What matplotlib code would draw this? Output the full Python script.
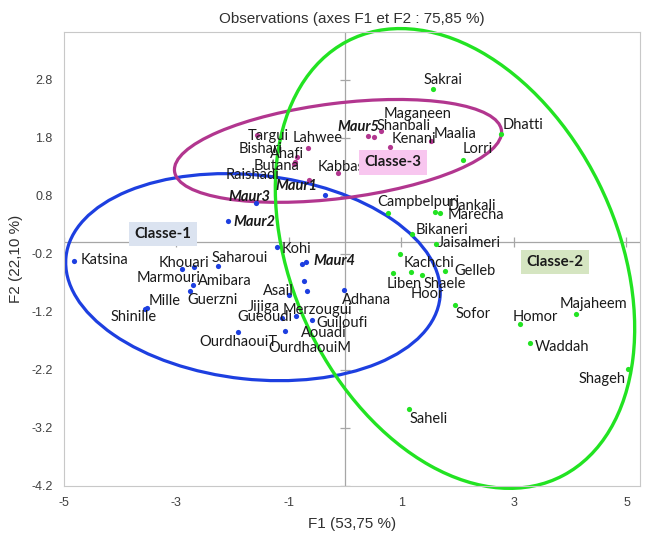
import matplotlib
matplotlib.use("Agg")
import matplotlib.pyplot as plt
from matplotlib.patches import Ellipse

# ---- Classe-1 observations (blue) ----
names_c1 = ["Katsina", "Khouari", "Marmouri", "Saharoui", "Amibara", "Guerzni",
            "Mille", "Shinille", "OurdhaouiT", "Kohi", "Maur4", "", "Jijiga",
            "OurdhaouiM", "Asail", "Gueoudi", "Merzougui", "Guiloufi", "Aouadi",
            "Adhana", "Maur1", "Maur3", "Maur2"]
f1_c1 = [-4.81, -2.90, -2.68, -2.26, -2.70, -2.75, -3.52, -3.55, -1.90, -1.21,
         -0.69, -0.76, -0.73, -0.67, -0.99, -1.12, -0.87, -0.59, -1.07, -0.02,
         -0.36, -1.58, -2.08]
f2_c1 = [-0.32, -0.46, -0.42, -0.41, -0.73, -0.84, -1.13, -1.15, -1.54, -0.08,
         -0.34, -0.37, -0.67, -0.84, -0.91, -1.30, -1.27, -1.34, -1.53, -0.82,
         0.82, 0.68, 0.37]

# ---- Classe-3 observations (magenta) ----
names_c3 = ["Targui", "Lahwee", "Ahafi", "Bishari", "Butana", "Kabbas", "Raishadi",
            "Maur5", "Maganeen", "Shanbali", "Kenani", "Maalia"]
f1_c3 = [-1.56, -0.66, -0.85, -0.89, -0.91, -0.12, -0.64, 0.41, 0.52, 0.64, 0.80, 1.53]
f2_c3 = [1.85, 1.63, 1.47, 1.39, 1.35, 1.20, 1.08, 1.83, 1.82, 1.92, 1.64, 1.75]

# ---- Classe-2 observations (green) ----
names_c2 = ["Sakrai", "Dhatti", "Lorri", "Campbelpuri", "Dankali", "Marecha",
            "Bikaneri", "Jaisalmeri", "Kachchi", "Liben", "Shaele", "Hoor", "Gelleb",
            "Sofor", "Homor", "Majaheem", "Waddah", "Shageh", "Saheli"]
f1_c2 = [1.56, 2.77, 2.10, 0.76, 1.60, 1.69, 1.19, 1.62, 0.98, 0.85, 1.17, 1.37,
         1.78, 1.95, 3.11, 4.10, 3.29, 5.03, 1.14]
f2_c2 = [2.64, 1.87, 1.42, 0.51, 0.52, 0.51, 0.14, -0.03, -0.20, -0.53, -0.51,
         -0.56, -0.49, -1.08, -1.41, -1.23, -1.73, -2.18, -2.87]

x_ticks = [-5, -3, -1, 1, 3, 5]
y_ticks = [2.8, 1.8, 0.8, -0.2, -1.2, -2.2, -3.2, -4.2]

# label placement: (dx, dy) in pixels from the point to the text's left/centre
label_offsets = {
    "Katsina": (6, -1), "Khouari": (-23, -6), "Marmouri": (-57, 11),
    "Saharoui": (-6, -8), "Amibara": (5, -4), "Guerzni": (-3, 9), "Mille": (2, -7),
    "Shinille": (-35, 8), "OurdhaouiT": (-39, 10), "Kohi": (5, 2), "Maur4": (7, -1),
    "Jijiga": (-56, 26), "OurdhaouiM": (-39, 57), "Asail": (-26, -4),
    "Gueoudi": (-45, -1), "Merzougui": (-13, -6), "Guiloufi": (5, 3),
    "Aouadi": (16, 2), "Adhana": (-2, 10), "Maur1": (-49, -9), "Maur3": (-28, -6),
    "Maur2": (6, 1),
    "Targui": (-9, 1), "Lahwee": (-15, -10), "Ahafi": (-27, -3), "Bishari": (-56, -13),
    "Butana": (-40, 2), "Kabbas": (-21, -6), "Raishadi": (-83, -5), "Maur5": (-31, -9),
    "Maganeen": (9, -23), "Shanbali": (-4, -5), "Kenani": (2, -8), "Maalia": (2, -7),
    "Sakrai": (-9, -9), "Dhatti": (2, -9), "Lorri": (-1, -11), "Campbelpuri": (-11, -11),
    "Dankali": (13, -6), "Marecha": (7, 2), "Bikaneri": (4, -4), "Jaisalmeri": (2, -1),
    "Kachchi": (3, 9), "Liben": (-6, 11), "Shaele": (13, 12), "Hoor": (-11, 19),
    "Gelleb": (9, 0), "Sofor": (1, 9), "Homor": (-7, -7), "Majaheem": (-16, -10),
    "Waddah": (5, 4), "Shageh": (-50, 10), "Saheli": (0, 10),
}

BLUE = "#1d3fe0"
MAGENTA = "#b2368f"
GREEN = "#22e322"
AXIS_GREY = "#a6a6a6"
TEXT_FONT = ["Lato", "DejaVu Sans"]
AXIS_FONT = ["Liberation Sans", "DejaVu Sans"]

fig = plt.figure(figsize=(6.46, 5.37), dpi=100)
ax = fig.add_axes([0.0983, 0.095, 0.8924, 0.8448])
ax.set_xlim(-5, 5.24)
ax.set_ylim(-4.2, 3.62)

for side in ax.spines.values():
    side.set_color("#c8c8c8")
    side.set_linewidth(0.8)

# axes through the origin, with crossing tick marks
ax.axhline(0, color=AXIS_GREY, lw=0.9, zorder=1)
ax.axvline(0, color=AXIS_GREY, lw=0.9, zorder=1)
ax.plot([0] * len(y_ticks), y_ticks, ls="none", marker="_", ms=7, mew=0.9,
        color=AXIS_GREY, zorder=1)
ax.plot(x_ticks, [0] * len(x_ticks), ls="none", marker="|", ms=7, mew=0.9,
        color=AXIS_GREY, zorder=1)

ax.set_xticks(x_ticks)
ax.set_yticks(y_ticks)
ax.set_xticklabels([f"{v:g}" for v in x_ticks], family=AXIS_FONT, fontsize=9, color="#404040")
ax.set_yticklabels([f"{v:.1f}" for v in y_ticks], family=AXIS_FONT, fontsize=9, color="#404040")
ax.tick_params(length=0, pad=8)

ax.set_title("Observations (axes F1 et F2 : 75,85 %)", family=AXIS_FONT,
             fontsize=11, color="#303030", pad=7)
ax.set_xlabel("F1 (53,75 %)", family=AXIS_FONT, fontsize=11, color="#303030", labelpad=6)
ax.set_ylabel("F2 (22,10 %)", family=AXIS_FONT, fontsize=11, color="#303030", labelpad=6)

# class ellipses
ax.add_patch(Ellipse((-1.634, -0.60), 6.68, 3.52, angle=-6, fill=False,
                     ec=BLUE, lw=2.3, zorder=2, clip_on=False))
ax.add_patch(Ellipse((-0.124, 1.576), 5.85, 1.64, angle=6.9, fill=False,
                     ec=MAGENTA, lw=2.3, zorder=2, clip_on=False))
ax.add_patch(Ellipse((1.954, -0.278), 8.41, 5.73, angle=-62.8, fill=False,
                     ec=GREEN, lw=2.4, zorder=2, clip_on=False))

groups = [(names_c1, f1_c1, f2_c1, BLUE),
          (names_c3, f1_c3, f2_c3, MAGENTA),
          (names_c2, f1_c2, f2_c2, GREEN)]
for names, xs, ys, col in groups:
    ax.scatter(xs, ys, s=14, color=col, zorder=3, linewidths=0)
    for name, x, y in zip(names, xs, ys):
        if not name:
            continue
        dx, dy = label_offsets[name]
        bold = name.startswith("Maur")
        ax.annotate(name, (x, y), xytext=(dx, -dy), textcoords="offset pixels",
                    ha="left", va="center", fontsize=10.5, family=TEXT_FONT,
                    color="#1a1a1a",
                    fontweight="bold" if bold else "normal",
                    fontstyle="italic" if bold else "normal", zorder=4)

# class tags
tags = [("Classe-1", -3.23, 0.145, "#dbe3f0"),
        ("Classe-3", 0.85, 1.38, "#f8c6ef"),
        ("Classe-2", 3.73, -0.34, "#d5e5c1")]
for text, x, y, bg in tags:
    ax.text(x, y, text, ha="center", va="center", fontsize=10.8, family=TEXT_FONT,
            fontweight="bold", color="#1a1a1a", zorder=4,
            bbox=dict(boxstyle="square,pad=0.35", fc=bg, ec="none"))

fig.savefig("out.png", dpi=100)
